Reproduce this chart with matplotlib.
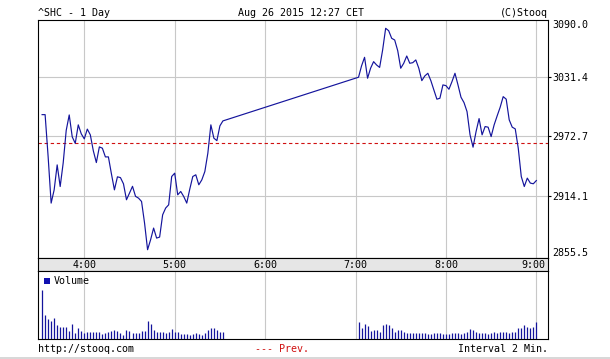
import matplotlib
matplotlib.use("Agg")
import matplotlib.pyplot as plt
import numpy as np
from matplotlib.patches import Rectangle
from matplotlib.transforms import offset_copy

# ---------------- data ----------------
morning_start = "3:32"
afternoon_start = "7:02"
interval_min = 2

morning_price = [2994.1, 2994.1, 2952.6, 2906.6, 2919.7, 2944.4, 2923.0, 2946.4, 2978.5, 2993.8,
                 2972.1, 2965.7, 2984.0, 2975.1, 2970.1, 2979.8, 2974.1, 2958.3, 2946.7, 2962.2,
                 2960.9, 2952.3, 2952.3, 2935.6, 2919.7, 2932.6, 2931.8, 2925.7, 2909.9, 2916.5,
                 2923.2, 2913.3, 2911.5, 2908.2, 2886.8, 2860.5, 2870.3, 2881.9, 2872.0, 2873.0,
                 2895.0, 2901.7, 2904.9, 2932.9, 2936.2, 2914.8, 2918.1, 2913.1, 2906.6, 2920.4,
                 2932.9, 2934.6, 2924.7, 2929.6, 2937.8, 2956.0, 2984.0, 2970.8, 2968.4, 2983.0,
                 2987.9]
afternoon_price = [3031.1, 3042.3, 3050.8, 3030.1, 3040.0, 3046.5, 3043.2, 3040.8, 3058.1, 3079.5,
                   3077.1, 3069.6, 3067.9, 3057.4, 3040.0, 3044.9, 3052.1, 3044.9, 3045.5, 3048.2,
                   3040.0, 3027.7, 3032.4, 3035.0, 3027.7, 3018.5, 3009.4, 3010.3, 3023.5, 3022.8,
                   3019.2, 3026.7, 3035.0, 3023.5, 3011.3, 3006.0, 2997.1, 2974.1, 2961.9, 2977.3,
                   2990.2, 2974.1, 2982.3, 2981.7, 2972.4, 2984.0, 2992.9, 3001.4, 3011.9, 3009.4,
                   2988.9, 2981.7, 2980.0, 2960.9, 2932.9, 2923.0, 2931.3, 2926.4, 2925.7, 2928.9]

morning_vol = [48.7, 23.0, 19.0, 17.3, 20.7, 13.0, 11.7, 11.0, 11.0, 7.0,
               14.7, 5.0, 10.7, 7.0, 5.3, 6.3, 6.7, 6.0, 6.0, 6.7,
               4.7, 5.0, 6.0, 7.0, 8.7, 7.7, 5.0, 3.3, 8.7, 7.7,
               5.0, 5.0, 5.0, 7.0, 7.0, 17.7, 14.3, 8.7, 6.7, 6.0,
               6.7, 5.3, 6.3, 9.7, 6.7, 6.0, 4.3, 4.3, 4.3, 3.7,
               4.3, 5.0, 4.3, 3.7, 5.5, 8.7, 10.3, 10.7, 8.3, 6.7,
               6.0]
afternoon_vol = [16.0, 10.0, 14.0, 12.0, 7.7, 8.7, 8.7, 6.0, 13.3, 14.0,
                 13.0, 10.0, 6.0, 8.7, 8.7, 6.0, 5.3, 5.0, 5.0, 5.0,
                 5.0, 5.7, 5.7, 4.7, 4.3, 5.3, 5.7, 5.0, 4.3, 4.3,
                 4.7, 5.0, 5.0, 5.0, 4.3, 5.3, 6.0, 9.3, 8.3, 6.0,
                 5.3, 5.0, 5.0, 4.7, 5.0, 6.0, 5.0, 6.0, 6.7, 6.0,
                 5.3, 6.0, 6.0, 10.3, 10.3, 13.7, 11.3, 10.0, 11.7, 16.3]

prev_close = 2966.0
price_ticks = [3090.0, 3031.4, 2972.7, 2914.1, 2855.5]
hour_ticks = [4, 5, 6, 7, 8, 9]
hour_labels = ["4:00", "5:00", "6:00", "7:00", "8:00", "9:00"]

title_left = "^SHC - 1 Day"
title_mid = "Aug 26 2015 12:27 CET"
title_right = "(C)Stooq"
footer_left = "http://stooq.com"
footer_mid = "--- Prev."
footer_right = "Interval 2 Min."
vol_label = "Volume"

# ---------------- helpers ----------------
W, H = 610, 359
def hm(s):
    h, m = s.split(":")
    return int(h) + int(m) / 60.0

def times(start, n):
    return hm(start) + np.arange(n) * interval_min / 60.0

t_m = times(morning_start, len(morning_price))
t_a = times(afternoon_start, len(afternoon_price))
t_all = np.concatenate([t_m, t_a])
p_all = np.array(morning_price + afternoon_price)

def rect(l, t, r, b):
    return [l / W, 1 - b / H, (r - l) / W, (b - t) / H]

FONT = "DejaVu Sans Mono"
FS = 7.2
BLUE = "#14149c"
GRID = "#c8c8c8"
XLIM = (3.488, 9.129)
YLIM = (2852.3, 3087.7)

fig = plt.figure(figsize=(W / 100, H / 100), dpi=100)
fig.patch.set_facecolor("white")

# ---------------- main price axes ----------------
ax = fig.add_axes(rect(38, 20, 548, 258))
ax.set_xlim(*XLIM)
ax.set_ylim(*YLIM)
for h in hour_ticks:
    ax.axvline(h, color=GRID, lw=0.8, zorder=1)
for v in price_ticks[1:4]:
    ax.axhline(v, color=GRID, lw=0.8, zorder=1)
ax.axhline(prev_close, color="#d01010", lw=0.8, ls=(0, (3, 2.5)), zorder=2)
ax.plot(t_all, p_all, color=BLUE, lw=0.85, zorder=3)
ax.set_xticks([])
ax.yaxis.tick_right()
ax.set_yticks(price_ticks[1:4])
ax.set_yticklabels([f"{v:.1f}" for v in price_ticks[1:4]], fontfamily=FONT, fontsize=FS)
ax.tick_params(axis="y", length=2.2, width=0.8, pad=1.0, direction="out")
for s in ax.spines.values():
    s.set_linewidth(0.8)
tr = offset_copy(ax.transAxes, fig=fig, x=4.2, y=0, units="dots")
ax.text(1.0, 1.0, f"{price_ticks[0]:.1f}", transform=tr, ha="left", va="top",
        fontfamily=FONT, fontsize=FS)
ax.text(1.0, 0.0, f"{price_ticks[-1]:.1f}", transform=tr, ha="left", va="bottom",
        fontfamily=FONT, fontsize=FS)

# ---------------- time strip ----------------
axt = fig.add_axes(rect(38, 258, 548, 271))
axt.set_facecolor("#e6e6e6")
axt.set_xlim(*XLIM)
axt.set_ylim(0, 1)
axt.set_xticks([])
axt.set_yticks([])
for s in axt.spines.values():
    s.set_linewidth(0.8)
for h, lab in zip(hour_ticks, hour_labels):
    if h == hour_ticks[-1]:
        axt.text(0.995, 0.45, lab, transform=axt.transAxes, ha="right", va="center",
                 fontfamily=FONT, fontsize=FS)
    else:
        axt.text(h, 0.45, lab, ha="center", va="center", fontfamily=FONT, fontsize=FS)

# ---------------- volume axes ----------------
axv = fig.add_axes(rect(38, 271, 548, 338.5))
axv.set_xlim(*XLIM)
axv.set_ylim(0, 67.3)
for h in hour_ticks:
    axv.axvline(h, color=GRID, lw=0.8, zorder=1)
axv.vlines(t_m, 0, morning_vol, color=BLUE, lw=0.9, zorder=2)
axv.vlines(t_a, 0, afternoon_vol, color=BLUE, lw=0.9, zorder=2)
axv.set_xticks([])
axv.set_yticks([])
for s in axv.spines.values():
    s.set_linewidth(0.8)
fig.patches.append(Rectangle((44.3 / W, 1 - 283.5 / H), 5.8 / W, 5.8 / H, transform=fig.transFigure,
                             facecolor="#1010b0", edgecolor="none"))
fig.text(54 / W, 1 - 280.5 / H, vol_label, ha="left", va="center", fontfamily=FONT, fontsize=FS)

# ---------------- header / footer ----------------
fig.text(37.5 / W, 1 - 12.5 / H, title_left, ha="left", va="center", fontfamily=FONT, fontsize=FS)
fig.text(301 / W, 1 - 12.5 / H, title_mid, ha="center", va="center", fontfamily=FONT, fontsize=FS)
fig.text(548 / W, 1 - 12.5 / H, title_right, ha="right", va="center", fontfamily=FONT, fontsize=FS)
fig.text(38 / W, 1 - 348.5 / H, footer_left, ha="left", va="center", fontfamily=FONT, fontsize=FS)
fig.text(282 / W, 1 - 348.5 / H, footer_mid, ha="center", va="center", fontfamily=FONT, fontsize=FS,
         color="#d01010")
fig.text(548 / W, 1 - 348.5 / H, footer_right, ha="right", va="center", fontfamily=FONT, fontsize=FS)
fig.patches.append(Rectangle((0, 0), 1, 2.5 / H, transform=fig.transFigure,
                             facecolor="#d8d8d8", edgecolor="none"))

fig.savefig("out.png", dpi=100)
